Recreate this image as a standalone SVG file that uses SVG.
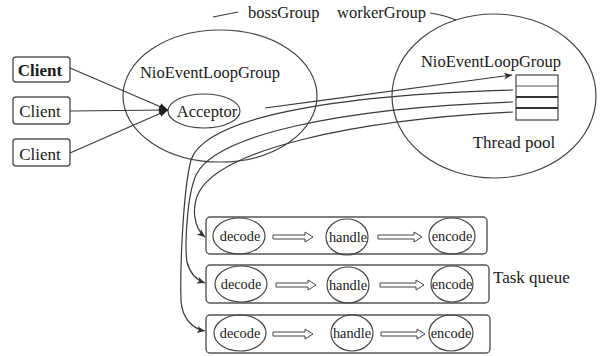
<svg xmlns="http://www.w3.org/2000/svg" width="604" height="356" viewBox="0 0 604 356">
<style>
text{font-family:"Liberation Serif","Times New Roman",serif;fill:#1a1a1a}
.t{font-size:16.5px}
.l{font-size:17px}
.s{font-size:14.3px}
.ln{fill:none;stroke:#3a3a3a;stroke-width:1.2}
.bx{fill:#fff;stroke:#555;stroke-width:1.4}
.el{fill:none;stroke:#444;stroke-width:1.2}
.dbl{fill:#fff;stroke:#444;stroke-width:1}
</style>
<defs>
<marker id="ah" markerWidth="10" markerHeight="8" refX="9" refY="4" orient="auto" markerUnits="userSpaceOnUse">
<path d="M0,0.5 L9,4 L0,7.5 Z" fill="#222"/>
</marker>
<marker id="ah2" markerWidth="9" markerHeight="8" refX="8" refY="4" orient="auto" markerUnits="userSpaceOnUse">
<path d="M0,0.5 L8,4 L0,7.5 L2,4 Z" fill="#333"/>
</marker>
</defs>
<rect width="604" height="356" fill="#fff"/>

<g id="labels">
<line class="ln" x1="213" y1="17" x2="238" y2="12"/>
<text class="t" x="248" y="18">bossGroup</text>
<text class="t" x="337" y="18">workerGroup</text>
<path class="ln" d="M430,13 Q444,15 456,20"/>
</g>

<g id="bossGroup">
<ellipse class="el" cx="220" cy="96" rx="97" ry="66"/>
<text class="t" x="210" y="78" text-anchor="middle">NioEventLoopGroup</text>
</g>

<g id="workerGroup">
<ellipse class="el" cx="494" cy="96" rx="102" ry="82"/>
<text class="t" x="491" y="67" text-anchor="middle">NioEventLoopGroup</text>
<text class="l" x="514" y="148" text-anchor="middle">Thread pool</text>
</g>

<g id="threadPool">
<rect x="516" y="75" width="42" height="45" fill="#fff" stroke="#444" stroke-width="1.2"/>
<line x1="516" y1="86" x2="558" y2="86" stroke="#555" stroke-width="1.2"/>
<line x1="516" y1="97" x2="558" y2="97" stroke="#333" stroke-width="1.8"/>
<line x1="516" y1="108" x2="558" y2="108" stroke="#333" stroke-width="1.8"/>
</g>

<g id="acceptor">
<ellipse class="el" cx="204" cy="111" rx="36" ry="17" fill="#fff"/>
<text class="t" x="207" y="117" text-anchor="middle">Acceptor</text>
</g>

<g id="client1">
<rect class="bx" x="13" y="57" width="57" height="25" rx="3"/>
<text class="l" x="40" y="76" text-anchor="middle" font-weight="bold">Client</text>
</g>
<g id="client2">
<rect class="bx" x="13" y="97" width="57" height="27" rx="3"/>
<text class="l" x="40" y="117" text-anchor="middle" font-size="17.5">Client</text>
</g>
<g id="client3">
<rect class="bx" x="13" y="139" width="57" height="27" rx="3"/>
<text class="l" x="40" y="160" text-anchor="middle" font-size="17.5">Client</text>
</g>

<g id="queue1">
<rect class="bx" x="206" y="217" width="281" height="37" rx="4"/>
<ellipse class="el" cx="239" cy="236" rx="26" ry="18"/>
<text class="s" x="240" y="241" text-anchor="middle">decode</text>
<ellipse class="el" cx="347" cy="237" rx="21" ry="18"/>
<text class="s" x="348" y="242" text-anchor="middle">handle</text>
<ellipse class="el" cx="452" cy="236" rx="23" ry="18"/>
<text class="s" x="452" y="241" text-anchor="middle">encode</text>
</g>
<g id="queue2">
<rect class="bx" x="206" y="265" width="283" height="38" rx="4"/>
<ellipse class="el" cx="241" cy="284" rx="26" ry="18"/>
<text class="s" x="241" y="289" text-anchor="middle">decode</text>
<ellipse class="el" cx="348" cy="285" rx="21" ry="18"/>
<text class="s" x="348" y="290" text-anchor="middle">handle</text>
<ellipse class="el" cx="452" cy="284" rx="21" ry="18"/>
<text class="s" x="452" y="289" text-anchor="middle">encode</text>
<text class="l" x="493" y="283">Task queue</text>
</g>
<g id="queue3">
<rect class="bx" x="206" y="315" width="284" height="38" rx="4"/>
<ellipse class="el" cx="240" cy="333" rx="26" ry="18"/>
<text class="s" x="240" y="338" text-anchor="middle">decode</text>
<ellipse class="el" cx="352" cy="333" rx="21" ry="18"/>
<text class="s" x="352" y="338" text-anchor="middle">handle</text>
<ellipse class="el" cx="451" cy="333" rx="22" ry="18"/>
<text class="s" x="451" y="338" text-anchor="middle">encode</text>
</g>

<g id="connectors">
<line class="ln" x1="70" y1="68" x2="168" y2="110" marker-end="url(#ah)"/>
<line class="ln" x1="70" y1="111" x2="168" y2="110" marker-end="url(#ah)"/>
<line class="ln" x1="70" y1="153" x2="168" y2="110" marker-end="url(#ah)"/>
<path class="ln" d="M265,108 C350,97 440,84 512,75" marker-end="url(#ah2)"/>
<path class="ln" d="M513,90 C330,95 205,118 191,160 C183,190 180,270 181,300 C182,320 194,329 205,331" marker-end="url(#ah2)"/>
<path class="ln" d="M513,102 C340,108 215,135 196,175 C186,198 185,250 187,262 C190,274 197,280 205,283" marker-end="url(#ah2)"/>
<path class="ln" d="M513,112 C350,120 222,150 199,192 C191,208 194,228 205,237" marker-end="url(#ah2)"/>
<path class="dbl" d="M273,235 H305 V232 L313,237 L305,242 V239 H273 Z"/>
<path class="dbl" d="M378,235 H414 V232 L422,237 L414,242 V239 H378 Z"/>
<path class="dbl" d="M276,283 H308 V280 L316,285 L308,290 V287 H276 Z"/>
<path class="dbl" d="M380,283 H416 V280 L424,285 L416,290 V287 H380 Z"/>
<path class="dbl" d="M273,332 H305 V329 L313,334 L305,339 V336 H273 Z"/>
<path class="dbl" d="M381,332 H417 V329 L425,334 L417,339 V336 H381 Z"/>
</g>
</svg>
